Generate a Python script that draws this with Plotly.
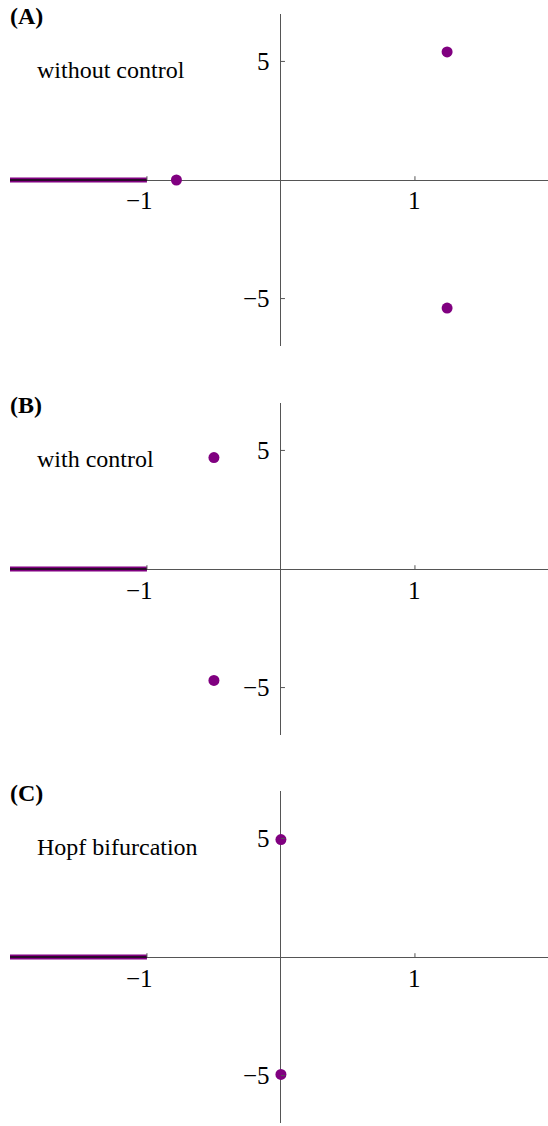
import plotly.graph_objects as go

# Eigenvalue spectra in the complex plane for three cases
panels = ["(A)", "(B)", "(C)"]
captions = ["without control", "with control", "Hopf bifurcation"]
eig_re = [[-0.78, 1.24, 1.24], [-0.5, -0.5], [0.0, 0.0]]
eig_im = [[0.0, 5.4, -5.4], [4.7, -4.7], [4.95, -4.95]]

# continuous spectrum along the negative real axis
cut_re = [-2.2, -1.0]
cut_im = [0.0, 0.0]

x_ticks = [-1, 1]
x_tick_text = ["\u22121", "1"]
y_ticks = [5, -5]
y_tick_text = ["5", "\u22125"]

x_range = [-2.022, 1.993]
y_range = [-7.0, 7.0]

H = 1126
W = 548
# vertical pixel extents of each panel (top, bottom)
panel_px = [(14, 346), (403, 735), (791, 1123)]

PURPLE = "#800080"
AXIS = "#555555"
FONT = "Liberation Serif"

fig = go.Figure()
layout = dict(
    width=W, height=H,
    margin=dict(l=0, r=0, t=0, b=0),
    paper_bgcolor="white", plot_bgcolor="white",
    showlegend=False,
)
annotations = []
shapes = []

for i in range(3):
    n = "" if i == 0 else str(i + 1)
    xa, ya = "x" + n, "y" + n
    top, bot = panel_px[i]
    layout["xaxis" + n] = dict(
        domain=[10 / W, 1.0], range=x_range, anchor=ya,
        showgrid=False, showticklabels=False, ticks="", showline=False,
        zeroline=True, zerolinecolor=AXIS, zerolinewidth=1.3,
    )
    layout["yaxis" + n] = dict(
        domain=[1 - bot / H, 1 - top / H], range=y_range, anchor=xa,
        showgrid=False, showticklabels=False, ticks="", showline=False,
        zeroline=True, zerolinecolor=AXIS, zerolinewidth=1.3,
    )

    # branch cut: purple band with a dark core
    fig.add_trace(go.Scatter(x=cut_re, y=cut_im, mode="lines", xaxis=xa, yaxis=ya,
                             line=dict(color=PURPLE, width=5), hoverinfo="skip"))
    fig.add_trace(go.Scatter(x=cut_re, y=cut_im, mode="lines", xaxis=xa, yaxis=ya,
                             line=dict(color="#2a0a2a", width=1.8), hoverinfo="skip"))
    # eigenvalues
    fig.add_trace(go.Scatter(x=eig_re[i], y=eig_im[i], mode="markers", xaxis=xa, yaxis=ya,
                             marker=dict(color=PURPLE, size=11), cliponaxis=False))

    # tick marks and labels on the real axis
    for v, t in zip(x_ticks, x_tick_text):
        shapes.append(dict(type="line", xref=xa, yref=ya, x0=v, x1=v, y0=0, y1=0.16,
                           line=dict(color=AXIS, width=1)))
        annotations.append(dict(x=v, y=0, xref=xa, yref=ya, text=t, showarrow=False,
                                xanchor="center", yanchor="middle", yshift=-21,
                                xshift=-7 if t.startswith("\u2212") else 0,
                                font=dict(family=FONT, size=25, color="black")))
    # tick marks and labels on the imaginary axis
    for v, t in zip(y_ticks, y_tick_text):
        shapes.append(dict(type="line", xref=xa, yref=ya, x0=0, x1=0.03, y0=v, y1=v,
                           line=dict(color=AXIS, width=1)))
        annotations.append(dict(x=0, y=v, xref=xa, yref=ya, text=t, showarrow=False,
                                xanchor="right", yanchor="middle", xshift=-9,
                                font=dict(family=FONT, size=25, color="black")))

    # panel letter and caption
    annotations.append(dict(x=8 / W, y=1 - (top + 2) / H, xref="paper", yref="paper",
                            text="<b>" + panels[i] + "</b>", showarrow=False,
                            xanchor="left", yanchor="middle",
                            font=dict(family=FONT, size=24, color="black")))
    annotations.append(dict(x=35 / W, y=1 - (top + 56) / H, xref="paper", yref="paper",
                            text=captions[i], showarrow=False,
                            xanchor="left", yanchor="middle",
                            font=dict(family=FONT, size=24, color="black")))

layout["annotations"] = annotations
layout["shapes"] = shapes
fig.update_layout(**layout)
fig.write_html("out.html")
